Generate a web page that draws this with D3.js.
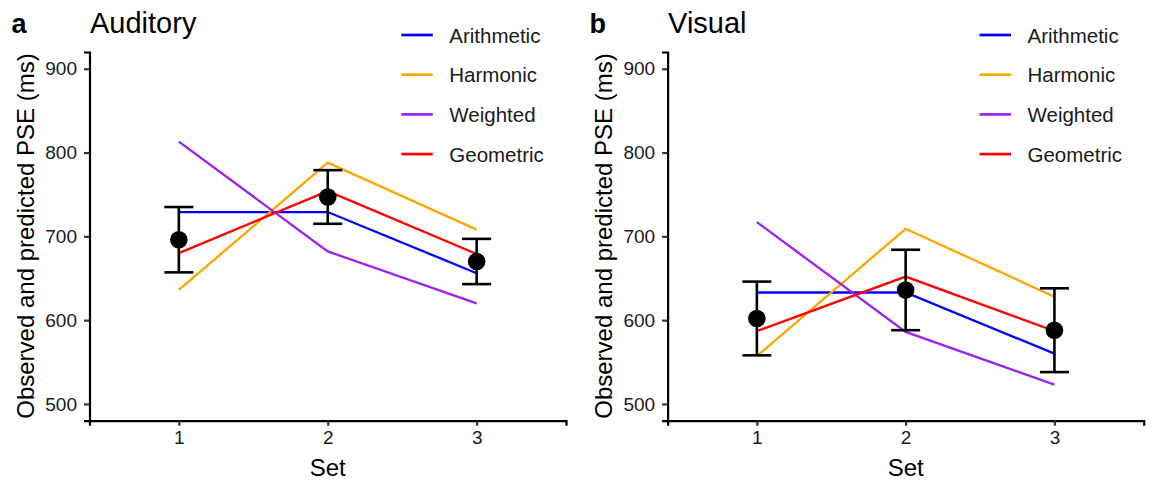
<!DOCTYPE html>
<html>
<head>
<meta charset="utf-8">
<script src="https://cdn.jsdelivr.net/npm/d3@7"></script>
<style>
  body { margin: 0; background: #fff; }
  text { font-family: "Liberation Sans", Arial, sans-serif; }
</style>
</head>
<body>
<div id="chart"></div>
<script>
// data
var sets = [1, 2, 3];
var seriesNames = ["Arithmetic", "Harmonic", "Weighted", "Geometric"];
var seriesColors = ["#0000ff", "#ffa500", "#a020f0", "#ff0000"];

var audObserved = [696, 747, 670];
var audError = [39, 32, 27];
var audArithmetic = [729, 729, 656];
var audHarmonic = [636, 788, 708];
var audWeighted = [813, 682, 620];
var audGeometric = [680, 754, 679];

var visObserved = [602, 636, 588];
var visError = [44, 48, 50];
var visArithmetic = [633, 633, 560];
var visHarmonic = [557, 709, 628];
var visWeighted = [717, 586, 523];
var visGeometric = [587, 652, 587];

var yTicks = [500, 600, 700, 800, 900];

var W = 1152, H = 481;
var svg = d3.select("#chart").append("svg")
    .attr("width", W)
    .attr("height", H);

function drawPanel(opts) {
    var g = svg.append("g");

    var x = d3.scaleLinear().domain([0.4, 3.6]).range([opts.left, opts.right]);
    var y = d3.scaleLinear().domain([480, 920]).range([420.7, 52]);

    // axes
    var xAxis = g.append("g")
        .attr("transform", "translate(0,420.7)")
        .call(d3.axisBottom(x).tickValues(sets).tickFormat(d3.format("d")).tickSize(5).tickPadding(5));
    var yAxis = g.append("g")
        .attr("transform", "translate(" + opts.left + ",0)")
        .call(d3.axisLeft(y).tickValues(yTicks).tickSize(5.5).tickPadding(7));
    [xAxis, yAxis].forEach(function (a) {
        a.attr("font-size", 19).attr("font-family", "'Liberation Sans', Arial, sans-serif");
        a.select(".domain").attr("stroke", "#000").attr("stroke-width", 2.2);
        a.selectAll(".tick line").attr("stroke", "#333").attr("stroke-width", 2.2);
        a.selectAll(".tick text").attr("fill", "#1a1a1a").style("font-size", "19px");
    });

    // axis titles
    g.append("text")
        .attr("x", (opts.left + opts.right) / 2)
        .attr("y", 476)
        .attr("text-anchor", "middle")
        .style("font-size", "24px")
        .text("Set");
    g.append("text")
        .attr("transform", "translate(" + (opts.left - 56) + ",236) rotate(-90)")
        .attr("text-anchor", "middle")
        .style("font-size", "24px")
        .text("Observed and predicted PSE (ms)");

    // panel letter and title
    g.append("text")
        .attr("x", opts.left - 78)
        .attr("y", 32.5)
        .style("font-size", "27px")
        .style("font-weight", "bold")
        .text(opts.letter);
    g.append("text")
        .attr("x", opts.left + 0.5)
        .attr("y", 33)
        .style("font-size", "29px")
        .text(opts.title);

    // model lines
    var line = d3.line()
        .x(function (d, i) { return x(sets[i]); })
        .y(function (d) { return y(d); });
    opts.series.forEach(function (vals, k) {
        g.append("path")
            .attr("d", line(vals))
            .attr("fill", "none")
            .attr("stroke", seriesColors[k])
            .attr("stroke-width", 2.3);
    });

    // error bars
    opts.observed.forEach(function (v, i) {
        var cx = x(sets[i]);
        var lo = y(v - opts.error[i]), hi = y(v + opts.error[i]);
        g.append("line").attr("x1", cx).attr("x2", cx).attr("y1", lo).attr("y2", hi)
            .attr("stroke", "#000").attr("stroke-width", 2.6);
        [lo, hi].forEach(function (yy) {
            g.append("line").attr("x1", cx - 14.5).attr("x2", cx + 14.5).attr("y1", yy).attr("y2", yy)
                .attr("stroke", "#000").attr("stroke-width", 2.6);
        });
    });

    // observed points
    g.selectAll("circle.obs")
        .data(opts.observed)
        .enter()
        .append("circle")
        .attr("cx", function (d, i) { return x(sets[i]); })
        .attr("cy", function (d) { return y(d); })
        .attr("r", 8.8)
        .attr("fill", "#000");

    // legend
    seriesNames.forEach(function (name, k) {
        var ly = 35 + k * 39.7;
        g.append("line")
            .attr("x1", opts.legendX).attr("x2", opts.legendX + 31.5)
            .attr("y1", ly).attr("y2", ly)
            .attr("stroke", seriesColors[k]).attr("stroke-width", 2.7);
        g.append("text")
            .attr("x", opts.legendX + 48)
            .attr("y", ly + 7.5)
            .style("font-size", "20.5px")
            .attr("fill", "#1a1a1a")
            .text(name);
    });
}

drawPanel({
    left: 89.5, right: 566, letter: "a", title: "Auditory", legendX: 401.3,
    observed: audObserved, error: audError,
    series: [audArithmetic, audHarmonic, audWeighted, audGeometric]
});
drawPanel({
    left: 667.6, right: 1143.7, letter: "b", title: "Visual", legendX: 979.5,
    observed: visObserved, error: visError,
    series: [visArithmetic, visHarmonic, visWeighted, visGeometric]
});
</script>
</body>
</html>
